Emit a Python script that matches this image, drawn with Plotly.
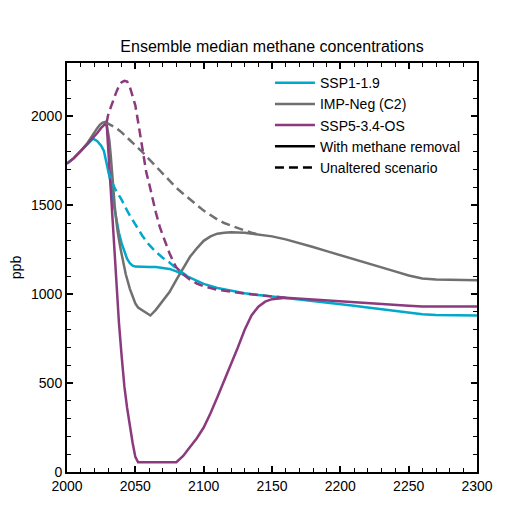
import plotly.graph_objects as go

# shared history (all scenarios identical until ~2019)
# SSP1-1.9
ssp119_years = [2000, 2005, 2010, 2015, 2019, 2022, 2025, 2027, 2030, 2032, 2034, 2036, 2038, 2040,
                2042, 2044, 2046, 2048, 2050, 2055, 2060, 2065, 2070, 2075, 2080, 2085, 2090, 2095,
                2100, 2110, 2120, 2130, 2140, 2150, 2160, 2170, 2180, 2190, 2200, 2210, 2220, 2230,
                2240, 2250, 2260, 2270, 2280, 2290, 2300]
ssp119_removal = [1735, 1765, 1805, 1845, 1875, 1862, 1835, 1805, 1700, 1630, 1510, 1415, 1345, 1285,
                  1235, 1198, 1174, 1160, 1155, 1152, 1153, 1153, 1148, 1142, 1128, 1110, 1090, 1072,
                  1058, 1035, 1018, 1005, 995, 985, 978, 970, 962, 953, 945, 935, 925, 915,
                  905, 895, 887, 883, 881, 880, 880]
ssp119_unalt_years = [2030, 2032, 2035, 2040, 2045, 2050, 2055, 2060, 2065, 2070, 2075, 2080, 2085, 2090]
ssp119_unaltered = [1700, 1650, 1595, 1530, 1455, 1392, 1330, 1278, 1238, 1205, 1178, 1145, 1115, 1090]

# IMP-Neg (C2)
impneg_years = [2000, 2005, 2010, 2015, 2018, 2020, 2022, 2024, 2026, 2028, 2029, 2030, 2031, 2032,
                2033, 2034, 2035, 2036, 2037, 2039, 2041, 2043, 2046, 2048, 2050, 2052, 2055, 2058,
                2061, 2065, 2070, 2075, 2080, 2085, 2090, 2095, 2100, 2105, 2110, 2115, 2120, 2130,
                2140, 2150, 2160, 2170, 2180, 2190, 2200, 2210, 2220, 2230, 2240, 2250, 2260, 2270,
                2280, 2290, 2300]
impneg_removal = [1735, 1765, 1805, 1850, 1885, 1910, 1932, 1952, 1964, 1968, 1950, 1910, 1865, 1780,
                  1670, 1570, 1490, 1420, 1355, 1262, 1180, 1112, 1030, 985, 948, 925, 910, 895,
                  880, 912, 962, 1012, 1080, 1142, 1210, 1258, 1300, 1325, 1340, 1346, 1348, 1346,
                  1336, 1325, 1308, 1288, 1265, 1242, 1220, 1198, 1175, 1152, 1128, 1105, 1088, 1082,
                  1080, 1079, 1078]
impneg_unalt_years = [2028, 2032, 2036, 2040, 2045, 2050, 2055, 2060, 2065, 2070, 2075, 2080, 2085,
                      2090, 2095, 2100, 2105, 2110, 2115, 2120, 2125, 2130, 2135, 2140]
impneg_unaltered = [1968, 1952, 1935, 1910, 1875, 1840, 1800, 1760, 1720, 1680, 1640, 1598, 1565,
                    1532, 1500, 1470, 1445, 1420, 1400, 1385, 1370, 1358, 1346, 1336]

# SSP5-3.4-OS
ssp534_years = [2000, 2005, 2010, 2015, 2019, 2022, 2025, 2028, 2029, 2030, 2031, 2032, 2033, 2034,
                2035, 2036, 2037, 2038, 2040, 2042, 2044, 2046, 2048, 2050, 2052, 2080, 2085, 2090,
                2095, 2100, 2105, 2110, 2115, 2120, 2125, 2130, 2135, 2140, 2145, 2150, 2155, 2160,
                2180, 2200, 2220, 2240, 2250, 2260, 2280, 2300]
ssp534_removal = [1735, 1765, 1805, 1845, 1880, 1905, 1935, 1960, 1965, 1840, 1710, 1585, 1460, 1330,
                  1205, 1080, 960, 840, 650, 480, 360, 250, 165, 85, 55, 55, 90, 140,
                  190, 250, 330, 420, 510, 600, 700, 800, 880, 930, 958, 972, 978, 980,
                  970, 959, 950, 940, 935, 931, 930, 930]
ssp534_unalt_years = [2029, 2030, 2032, 2034, 2036, 2038, 2040, 2042, 2044, 2046, 2048, 2050, 2052,
                      2054, 2056, 2058, 2060, 2062, 2065, 2068, 2070, 2075, 2078, 2080, 2085, 2090,
                      2095, 2100, 2110, 2120, 2130, 2140, 2150, 2160]
ssp534_unaltered = [1965, 2005, 2050, 2095, 2135, 2170, 2192, 2200, 2196, 2165, 2120, 2062, 1970,
                    1870, 1765, 1685, 1625, 1555, 1460, 1375, 1330, 1230, 1180, 1150, 1112, 1082,
                    1060, 1045, 1025, 1012, 1003, 995, 987, 980]

COL_CYAN = '#00A8CC'
COL_GRAY = '#707070'
COL_PURPLE = '#8B3A7E'
FONT = 'Arial, Liberation Sans, sans-serif'
DASH = '9px,5px'

fig = go.Figure()

# 실선 (with methane removal)
for name, x, y, c in [('SSP1-1.9', ssp119_years, ssp119_removal, COL_CYAN),
                      ('IMP-Neg (C2)', impneg_years, impneg_removal, COL_GRAY),
                      ('SSP5-3.4-OS', ssp534_years, ssp534_removal, COL_PURPLE)]:
    fig.add_trace(go.Scatter(x=x, y=y, mode='lines', name=name, legendgroup=name,
                             line=dict(color=c, width=2.5)))

# 점선 (unaltered)
for name, x, y, c in [('SSP1-1.9', ssp119_unalt_years, ssp119_unaltered, COL_CYAN),
                      ('IMP-Neg (C2)', impneg_unalt_years, impneg_unaltered, COL_GRAY),
                      ('SSP5-3.4-OS', ssp534_unalt_years, ssp534_unaltered, COL_PURPLE)]:
    fig.add_trace(go.Scatter(x=x, y=y, mode='lines', name=name, legendgroup=name, showlegend=False,
                             line=dict(color=c, width=2.5, dash=DASH)))

# legend-only entries
fig.add_trace(go.Scatter(x=[None], y=[None], mode='lines', name='With methane removal',
                         line=dict(color='black', width=2.5)))
fig.add_trace(go.Scatter(x=[None], y=[None], mode='lines', name='Unaltered scenario',
                         line=dict(color='black', width=2.5, dash=DASH)))

fig.update_layout(
    width=531, height=531,
    # the page body adds ~8px, so margins are shifted to keep the plot box in place
    margin=dict(l=59, r=62, t=55, b=67),
    plot_bgcolor='white', paper_bgcolor='white',
    font=dict(family=FONT, size=14, color='black'),
    title=dict(text='Ensemble median methane concentrations', x=0.5, xref='paper',
               y=1 - 38 / 531, yref='container', yanchor='middle',
               font=dict(family=FONT, size=16, color='black')),
    xaxis=dict(range=[2000, 2300], dtick=50, ticks='inside', ticklen=6, tickwidth=1.5,
               tickcolor='black', showline=True, linecolor='black', linewidth=2,
               mirror='ticks', showgrid=False, zeroline=False, automargin=False,
               tickfont=dict(family=FONT, size=14, color='black'),
               minor=dict(ticks='inside', dtick=10, ticklen=4, tickwidth=1.2,
                          tickcolor='black')),
    yaxis=dict(range=[0, 2300], dtick=500, ticks='inside', ticklen=6, tickwidth=1.5,
               tickcolor='black', showline=True, linecolor='black', linewidth=2,
               mirror='ticks', showgrid=False, zeroline=False, automargin=False,
               tickfont=dict(family=FONT, size=14, color='black'),
               title=dict(text='ppb', font=dict(family=FONT, size=14), standoff=14),
               minor=dict(ticks='inside', dtick=100, ticklen=4, tickwidth=1.2,
                          tickcolor='black')),
    legend=dict(x=0.495, y=0.99, xanchor='left', yanchor='top', bgcolor='rgba(0,0,0,0)',
                font=dict(family=FONT, size=14, color='black'), itemwidth=40,
                tracegroupgap=0),
    showlegend=True,
)

fig.write_html("out.html")
